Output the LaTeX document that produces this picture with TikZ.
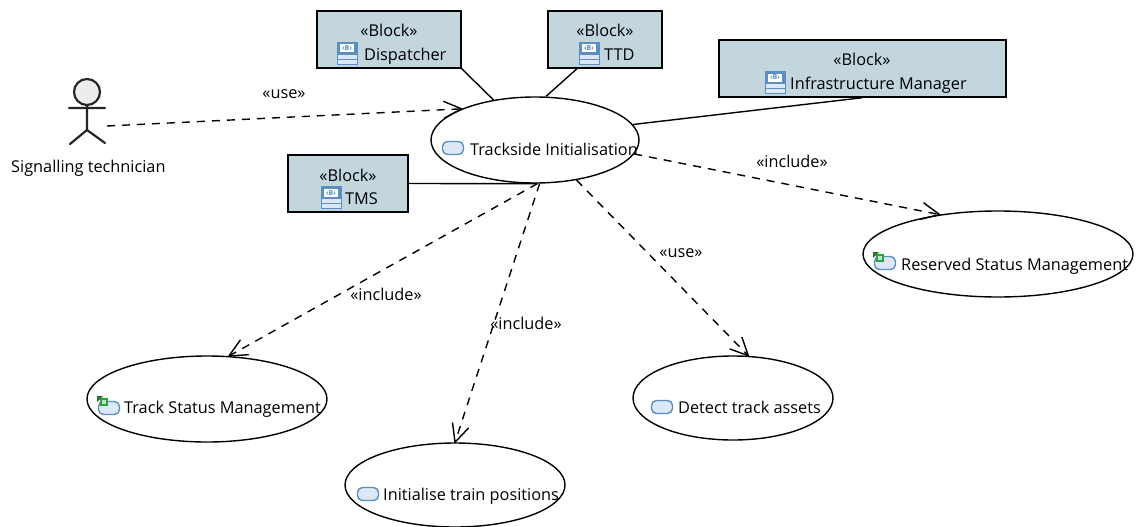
\documentclass[tikz,border=0pt]{standalone}
\usepackage{fontspec}
\setmainfont{Open Sans}
\usetikzlibrary{arrows.meta,shapes.geometric,calc}
\definecolor{blockfill}{HTML}{C3D6DE}
\definecolor{iconblue}{HTML}{5B8FBF}
\definecolor{iconfill}{HTML}{DCE8F5}
\definecolor{icongreen}{HTML}{2FA040}
\pgfdeclarearrow{
  name=VBarb,
  parameters={\the\pgfarrowlength,\the\pgfarrowwidth},
  setup code={\pgfarrowssettipend{0pt}\pgfarrowssetlineend{-1pt}\pgfarrowssavethe\pgfarrowlength\pgfarrowssavethe\pgfarrowwidth},
  drawing code={\pgfsetdash{}{0pt}\pgfsetroundjoin
    \pgfpathmoveto{\pgfqpoint{-\pgfarrowlength}{.5\pgfarrowwidth}}
    \pgfpathlineto{\pgfqpoint{0pt}{0pt}}
    \pgfpathlineto{\pgfqpoint{-\pgfarrowlength}{-.5\pgfarrowwidth}}
    \pgfusepathqstroke},
  defaults={length=18pt,width=17pt}
}
\tikzset{
  x=1pt,y=-1pt,
  every node/.style={font=\fontsize{16.3}{19}\selectfont,text=black},
  blockbox/.style={draw=black,fill=blockfill,line width=1.4pt,inner sep=0pt,minimum height=57pt},
  usecase/.style={ellipse,draw=black,line width=1.4pt,fill=white,inner sep=0pt},
  txt/.style={inner sep=0pt,anchor=base west},
  lab/.style={inner sep=0pt,anchor=base},
  assoc/.style={draw=black,line width=1.4pt},
  dep/.style={draw=black,line width=1.4pt,dash pattern=on 8pt off 7pt,-{VBarb}},
  actorline/.style={draw=black!85,line width=2.2pt,line cap=round},
}
\newcommand{\blockicon}[1]{%
  \begin{scope}[shift={#1}]
    \draw[iconblue,fill=iconfill,line width=.9pt] (-10,-11) rectangle (10,11);
    \fill[iconblue] (-10,-11) rectangle (10,2);
    \fill[white] (-7,-8.5) rectangle (7,-.5);
    \node[inner sep=0pt,font=\fontsize{7}{7}\bfseries\selectfont,text=iconblue] at (0,-4.5) {‹B›};
    \draw[iconblue,line width=1pt] (-10,6.5) -- (10,6.5);
  \end{scope}}
\newcommand{\ucicon}[1]{%
  \draw[iconblue,fill=iconfill,line width=1.4pt,rounded corners=5pt] ($#1+(-10.5,-6.5)$) rectangle ($#1+(10.5,6.5)$);}
\newcommand{\greenmark}[1]{%
  \begin{scope}[shift={#1}]
    \fill[icongreen!70!black] (0,0) -- (6,0) -- (0,6) -- cycle;
    \fill[icongreen] (3,2) rectangle (11,10);
    \fill[white!70!icongreen] (5,4) rectangle (9,8);
  \end{scope}}
\begin{document}
\begin{tikzpicture}
\useasboundingbox (0,0) rectangle (1137,527);
% blocks
\node[blockbox,minimum width=144pt] (disp) at (389,39.5) {};
\node[blockbox,minimum width=114pt] (ttd) at (605,39.5) {};
\node[blockbox,minimum width=287pt] (infra) at (862.5,68.5) {};
\node[blockbox,minimum width=120pt] (tms) at (348,183.5) {};
% use cases
\node[usecase,minimum width=208pt,minimum height=86pt] (ti) at (535,140) {};
\node[usecase,minimum width=270pt,minimum height=86pt] (rsm) at (998,254) {};
\node[usecase,minimum width=240pt,minimum height=86pt] (tsm) at (207,399) {};
\node[usecase,minimum width=220pt,minimum height=84pt] (itp) at (455,485) {};
\node[usecase,minimum width=200pt,minimum height=84pt] (dta) at (733,398) {};
% actor
\node[circle,draw=black!85,fill=black!7,line width=2.2pt,minimum size=26pt,inner sep=0pt] (head) at (87,92) {};
\coordinate (neck) at (87,105);
\coordinate (hip) at (87,130);
\coordinate (armL) at (69,108);
\coordinate (armR) at (105,108);
\coordinate (legL) at (70,144);
\coordinate (legR) at (105,143);
\coordinate (actorend) at (107,126);
\draw[actorline] (neck) -- (hip) (armL) -- (armR) (legL) -- (hip) -- (legR);
% texts
\node[txt] (t1) at (11,172) {Signalling technician};
\node[lab] (b1) at (389,37) {«Block»};
\node[txt] (d1) at (364,60) {Dispatcher};
\blockicon{(347,53)}
\node[lab] (b2) at (605,37) {«Block»};
\node[txt] (d2) at (604,60) {TTD};
\blockicon{(589,53)}
\node[lab] (b3) at (862,66) {«Block»};
\node[txt] (d3) at (790,89) {Infrastructure Manager};
\blockicon{(775,82)}
\node[lab] (b4) at (348,181) {«Block»};
\node[txt] (d4) at (345,204) {TMS};
\blockicon{(331,197)}
\ucicon{(453,148)}
\node[txt] (u1) at (470,155) {Trackside Initialisation};
\ucicon{(885,263)}
\node[txt] (u2) at (901,270) {Reserved Status Management};
\ucicon{(109,408)}
\node[txt] (u3) at (124,413) {Track Status Management};
\ucicon{(368,494)}
\node[txt] (u4) at (383,500) {Initialise train positions};
\ucicon{(662,407)}
\node[txt] (u5) at (678,413) {Detect track assets};
% green markers
\greenmark{(873,252)}
\greenmark{(97,396)}
% connectors
\draw[assoc] (disp.south east) -- (ti.136);
\draw[assoc] ($(ttd.south)+(-28,0)$) -- (ti.76.6);
\draw[assoc] (infra.south) -- (ti.9.5);
\draw[assoc] (tms.east) -- (ti.-88);
\draw[dep] (actorend) -- (ti.157);
\draw[dep] (ti.-8) -- (rsm.146);
\draw[dep] (ti.-87) -- (tsm.63);
\draw[dep] (ti.-84) -- (itp.90);
\draw[dep] (ti.-44) -- (dta.70);
% connector labels
\node[lab] (l1) at (284,98) {«use»};
\node[lab] (l2) at (792,167) {«include»};
\node[lab] (l3) at (386,300) {«include»};
\node[lab] (l4) at (526,329) {«include»};
\node[lab] (l5) at (681,257) {«use»};
\end{tikzpicture}
\end{document}
